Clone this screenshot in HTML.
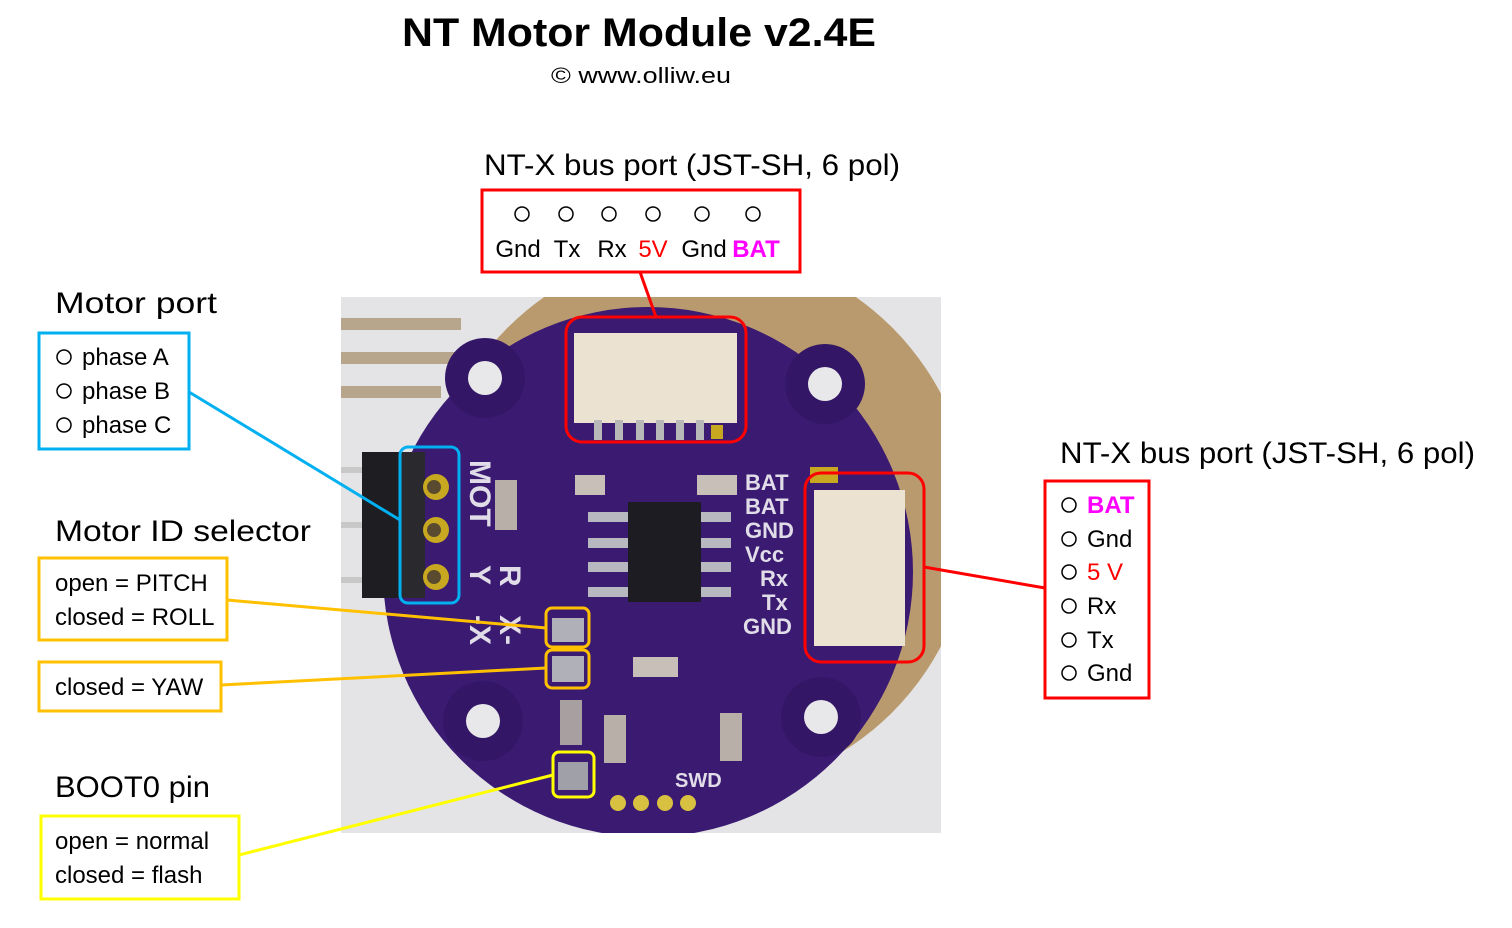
<!DOCTYPE html>
<html><head><meta charset="utf-8"><style>
html,body{margin:0;padding:0;background:#fff;}
body{width:1512px;height:928px;overflow:hidden;position:relative;font-family:"Liberation Sans",sans-serif;}
</style></head><body>
<svg width="1512" height="928" viewBox="0 0 1512 928" xmlns="http://www.w3.org/2000/svg" style="position:absolute;left:0;top:0" font-family="Liberation Sans, sans-serif">
<defs><clipPath id="ph"><rect x="341" y="297" width="600" height="536"/></clipPath></defs>
<g clip-path="url(#ph)">
<rect x="341" y="297" width="600" height="536" fill="#e4e4e6"/>
<rect x="341" y="318" width="120" height="12" fill="#b8a68c"/>
<rect x="341" y="352" width="120" height="12" fill="#b8a68c"/>
<rect x="341" y="386" width="100" height="12" fill="#b8a68c"/>
<circle cx="700" cy="520" r="272" fill="#b99a6e"/>
<circle cx="648" cy="572" r="265" fill="#3b1a72"/>
<circle cx="485" cy="378" r="40" fill="#331766"/>
<circle cx="825" cy="384" r="40" fill="#331766"/>
<circle cx="483" cy="721" r="40" fill="#331766"/>
<circle cx="821" cy="717" r="40" fill="#331766"/>
<circle cx="485" cy="378" r="17" fill="#e8e8ea"/>
<circle cx="825" cy="384" r="17" fill="#e8e8ea"/>
<circle cx="483" cy="721" r="17" fill="#e8e8ea"/>
<circle cx="821" cy="717" r="17" fill="#e8e8ea"/>
<rect x="341" y="467" width="25" height="6" fill="#c8c8c8"/>
<rect x="341" y="522" width="25" height="6" fill="#c8c8c8"/>
<rect x="341" y="577" width="25" height="6" fill="#c8c8c8"/>
<rect x="362" y="452" width="40" height="146" fill="#1e1e22"/>
<rect x="400" y="452" width="25" height="146" fill="#2a2a2e"/>
<circle cx="436" cy="487" r="13" fill="#c8a820"/>
<circle cx="436" cy="530" r="13" fill="#c8a820"/>
<circle cx="436" cy="577" r="13" fill="#c8a820"/>
<circle cx="434" cy="487" r="7" fill="#5a4a30"/>
<circle cx="434" cy="530" r="7" fill="#5a4a30"/>
<circle cx="434" cy="577" r="7" fill="#5a4a30"/>
<rect x="574" y="333" width="163" height="90" fill="#ece2d2"/>
<g fill="#b8b8b8"><rect x="594" y="420" width="8" height="20"/><rect x="615" y="420" width="8" height="20"/><rect x="636" y="420" width="8" height="20"/><rect x="656" y="420" width="8" height="20"/><rect x="676" y="420" width="8" height="20"/><rect x="696" y="420" width="8" height="20"/></g>
<rect x="711" y="425" width="12" height="14" fill="#c8a820"/>
<rect x="814" y="490" width="91" height="156" fill="#ece2d2"/>
<rect x="810" y="467" width="28" height="16" fill="#c8a820"/>
<rect x="628" y="502" width="73" height="100" fill="#1c1c22"/>
<g fill="#b8b8c0"><rect x="588" y="512" width="40" height="10"/><rect x="588" y="538" width="40" height="10"/><rect x="588" y="562" width="40" height="10"/><rect x="588" y="587" width="40" height="10"/><rect x="701" y="512" width="30" height="10"/><rect x="701" y="538" width="30" height="10"/><rect x="701" y="562" width="30" height="10"/><rect x="701" y="587" width="30" height="10"/></g>
<rect x="575" y="475" width="30" height="20" fill="#c8c0b8"/>
<rect x="697" y="475" width="40" height="20" fill="#c8c0b8"/>
<rect x="495" y="480" width="22" height="50" fill="#b8b0a8"/>
<rect x="633" y="657" width="45" height="20" fill="#c8c0b8"/>
<rect x="560" y="700" width="22" height="45" fill="#a8a0a0"/>
<rect x="604" y="715" width="22" height="48" fill="#b8b0a8"/>
<rect x="720" y="713" width="22" height="48" fill="#b8b0a8"/>
<rect x="552" y="618" width="32" height="24" fill="#b0b0b8"/>
<rect x="552" y="656" width="32" height="26" fill="#b0b0b8"/>
<rect x="558" y="762" width="30" height="28" fill="#a0a0a8"/>
<g fill="#d8c040"><circle cx="618" cy="803" r="8"/><circle cx="641" cy="803" r="8"/><circle cx="665" cy="803" r="8"/><circle cx="688" cy="803" r="8"/></g>
<g fill="#e0dce8" font-weight="bold" font-size="22">
<text x="745" y="490">BAT</text><text x="745" y="514">BAT</text><text x="745" y="538">GND</text><text x="745" y="562">Vcc</text><text x="760" y="586">Rx</text><text x="762" y="610">Tx</text><text x="743" y="634">GND</text>
<text x="675" y="787" font-size="20">SWD</text>
</g>
<g fill="#e0dce8" font-weight="bold" font-size="30">
<text transform="translate(470,460) rotate(90)">MOT</text>
<text transform="translate(500,565) rotate(90)">R</text>
<text transform="translate(470,565) rotate(90)">Y</text>
<text transform="translate(500,615) rotate(90)">X-</text>
<text transform="translate(470,615) rotate(90)">-X</text>
</g>
</g>
<text x="402" y="46" font-size="40" font-weight="bold" textLength="474" lengthAdjust="spacingAndGlyphs">NT Motor Module v2.4E</text>
<text x="551" y="83" font-size="22" textLength="180" lengthAdjust="spacingAndGlyphs">© www.olliw.eu</text>
<text x="484" y="175" font-size="30" textLength="416" lengthAdjust="spacingAndGlyphs">NT-X bus port (JST-SH, 6 pol)</text>
<rect x="482" y="190" width="318" height="82" fill="none" stroke="#ff0000" stroke-width="3"/>
<g fill="none" stroke="#000" stroke-width="1.5"><circle cx="522" cy="214" r="7"/><circle cx="566" cy="214" r="7"/><circle cx="609" cy="214" r="7"/><circle cx="653" cy="214" r="7"/><circle cx="702" cy="214" r="7"/><circle cx="753" cy="214" r="7"/></g>
<g font-size="24" text-anchor="middle"><text x="518" y="257">Gnd</text><text x="567" y="257">Tx</text><text x="612" y="257">Rx</text><text x="653" y="257" fill="#ff0000">5V</text><text x="704" y="257">Gnd</text><text x="756" y="257" fill="#ff00ff" font-weight="bold">BAT</text></g>
<line x1="640" y1="272" x2="656" y2="317" stroke="#ff0000" stroke-width="3"/>
<rect x="566" y="317" width="180" height="125" rx="16" fill="none" stroke="#ff0000" stroke-width="3"/>
<text x="1060" y="463" font-size="30" textLength="415" lengthAdjust="spacingAndGlyphs">NT-X bus port (JST-SH, 6 pol)</text>
<rect x="805" y="473" width="119" height="189" rx="16" fill="none" stroke="#ff0000" stroke-width="3"/>
<line x1="924" y1="567" x2="1045" y2="588" stroke="#ff0000" stroke-width="3"/>
<rect x="1045" y="481" width="104" height="217" fill="none" stroke="#ff0000" stroke-width="3"/>
<g fill="none" stroke="#000" stroke-width="1.5"><circle cx="1069" cy="505" r="7"/><circle cx="1069" cy="539" r="7"/><circle cx="1069" cy="572" r="7"/><circle cx="1069" cy="606" r="7"/><circle cx="1069" cy="640" r="7"/><circle cx="1069" cy="673" r="7"/></g>
<g font-size="24"><text x="1087" y="513" fill="#ff00ff" font-weight="bold">BAT</text><text x="1087" y="547">Gnd</text><text x="1087" y="580" fill="#ff0000">5 V</text><text x="1087" y="614">Rx</text><text x="1087" y="648">Tx</text><text x="1087" y="681">Gnd</text></g>
<text x="55" y="313" font-size="30" textLength="162" lengthAdjust="spacingAndGlyphs">Motor port</text>
<rect x="39" y="333" width="150" height="116" fill="none" stroke="#00b0f0" stroke-width="3"/>
<g fill="none" stroke="#000" stroke-width="1.5"><circle cx="64" cy="357" r="7"/><circle cx="64" cy="391" r="7"/><circle cx="64" cy="425" r="7"/></g>
<g font-size="24"><text x="82" y="365">phase A</text><text x="82" y="399">phase B</text><text x="82" y="433">phase C</text></g>
<line x1="189" y1="392" x2="400" y2="520" stroke="#00b0f0" stroke-width="3"/>
<rect x="400" y="447" width="59" height="156" rx="8" fill="none" stroke="#00b0f0" stroke-width="3"/>
<text x="55" y="541" font-size="30" textLength="256" lengthAdjust="spacingAndGlyphs">Motor ID selector</text>
<rect x="39" y="558" width="188" height="82" fill="none" stroke="#ffc000" stroke-width="3"/>
<g font-size="24"><text x="55" y="591">open = PITCH</text><text x="55" y="625">closed = ROLL</text></g>
<line x1="227" y1="600" x2="546" y2="628" stroke="#ffc000" stroke-width="3"/>
<rect x="546" y="608" width="43" height="39" rx="6" fill="none" stroke="#ffc000" stroke-width="3"/>
<rect x="546" y="650" width="43" height="38" rx="6" fill="none" stroke="#ffc000" stroke-width="3"/>
<rect x="39" y="662" width="182" height="49" fill="none" stroke="#ffc000" stroke-width="3"/>
<text x="55" y="695" font-size="24">closed = YAW</text>
<line x1="221" y1="685" x2="546" y2="668" stroke="#ffc000" stroke-width="3"/>
<text x="55" y="797" font-size="30" textLength="155" lengthAdjust="spacingAndGlyphs">BOOT0 pin</text>
<rect x="41" y="816" width="198" height="83" fill="none" stroke="#ffff00" stroke-width="3"/>
<g font-size="24"><text x="55" y="849">open = normal</text><text x="55" y="883">closed = flash</text></g>
<line x1="239" y1="855" x2="553" y2="775" stroke="#ffff00" stroke-width="3"/>
<rect x="553" y="752" width="41" height="45" rx="6" fill="none" stroke="#ffff00" stroke-width="3"/>
</svg>
</body></html>
